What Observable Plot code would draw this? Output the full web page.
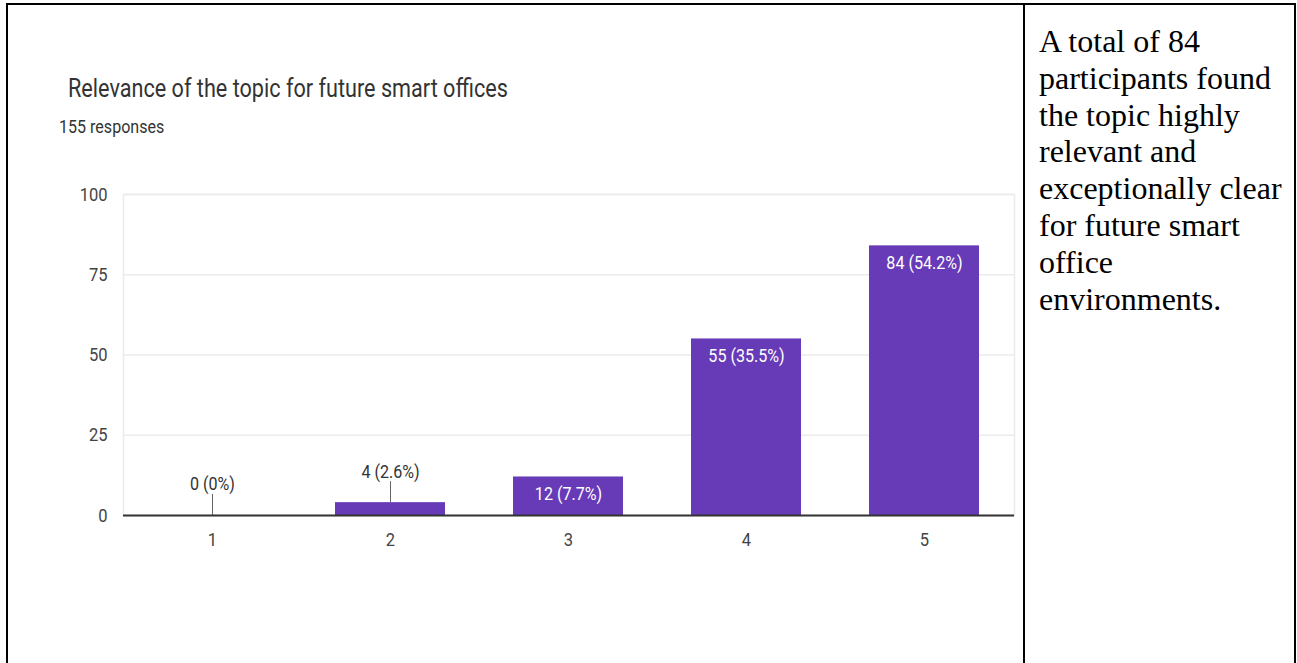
<!DOCTYPE html>
<html>
<head>
<meta charset="utf-8">
<script src="https://cdn.jsdelivr.net/npm/d3@7"></script>
<script src="https://cdn.jsdelivr.net/npm/@observablehq/plot@0.6"></script>
<style>
  html, body { margin: 0; padding: 0; background: #fff; width: 1297px; height: 663px; overflow: hidden; position: relative; }
  #frame { position: absolute; left: 6px; top: 3px; width: 1286px; height: 720px; border: 2px solid #000; border-bottom: none; }
  #divider { position: absolute; left: 1023px; top: 3px; width: 2px; height: 720px; background: #000; }
  #chart { position: absolute; left: 8px; top: 150px; }
  .title { position: absolute; left: 68px; top: 75px; font-family: Roboto; font-size: 26px; line-height: 26px; color: #333; white-space: nowrap; transform: scaleX(0.832); transform-origin: 0 0; }
  .subtitle { position: absolute; left: 59px; top: 117px; font-family: Roboto; font-size: 19px; line-height: 19px; color: #333; white-space: nowrap; transform: scaleX(0.845); transform-origin: 0 0; }
  .note { position: absolute; left: 1039px; top: 23px; font-family: "Liberation Serif"; font-size: 32px; line-height: 1.15; color: #000; white-space: nowrap; }
</style>
</head>
<body>
<div id="frame"></div>
<div id="divider"></div>
<div id="chart"></div>
<div class="title">Relevance of the topic for future smart offices</div>
<div class="subtitle">155 responses</div>
<div class="note">A total of 84<br>participants found<br>the topic highly<br>relevant and<br>exceptionally clear<br>for future smart<br>office<br>environments.</div>
<script>
// ---- data ----
const categories = ["1", "2", "3", "4", "5"];
const counts = [0, 4, 12, 55, 84];
const totalResponses = 155;
const yTicks = [0, 25, 50, 75, 100];

const data = categories.map((c, i) => ({
  cat: c,
  count: counts[i],
  label: `${counts[i]} (${+(counts[i] / totalResponses * 100).toFixed(1)}%)`
}));
const inside = data.filter(d => d.count >= 10);
const outside = data.filter(d => d.count < 10);

const chart = Plot.plot({
  width: 1012,
  height: 450,
  marginLeft: 115,
  marginRight: 6,
  marginTop: 44,
  marginBottom: 85,
  style: { fontFamily: "Roboto", fontSize: "19px", color: "#444", background: "transparent" },
  x: { type: "band", domain: categories, paddingInner: 0.38, paddingOuter: 0.19, align: 0.5, tickSize: 0, tickPadding: 17, label: null },
  y: { domain: [0, 100], ticks: yTicks, tickSize: 0, tickPadding: 16, label: null },
  marks: [
    Plot.frame({ stroke: "#ebebeb", strokeWidth: 1.5 }),
    Plot.ruleY(yTicks.filter(t => t > 0), { stroke: "#ebebeb", strokeWidth: 1.5 }),
    Plot.barY(data, { x: "cat", y: "count", fill: "#673ab7" }),
    Plot.ruleX(outside, { x: "cat", y1: "count", y2: "count", insetTop: 0, insetBottom: 21, stroke: "#666", strokeWidth: 1 }),
    Plot.ruleY([0], { stroke: "#333", strokeWidth: 2 }),
    Plot.text(inside, { x: "cat", y: "count", text: "label", dy: 17, fill: "white", fontSize: 18.5 }),
    Plot.text(outside, { x: "cat", y: "count", text: "label", dy: -31, fill: "#333", fontSize: 18.5 })
  ]
});
document.getElementById("chart").appendChild(chart);

// condense text horizontally around its anchor to match the narrow lettering
const sx = 0.87;
chart.querySelectorAll("text").forEach(t => {
  const tr = t.getAttribute("transform");
  if (tr) {
    t.setAttribute("transform", tr + ` scale(${sx},1)`);
  } else {
    const x = +(t.getAttribute("x") || 0);
    t.setAttribute("transform", `translate(${x},0) scale(${sx},1) translate(${-x},0)`);
  }
});
</script>
</body>
</html>
